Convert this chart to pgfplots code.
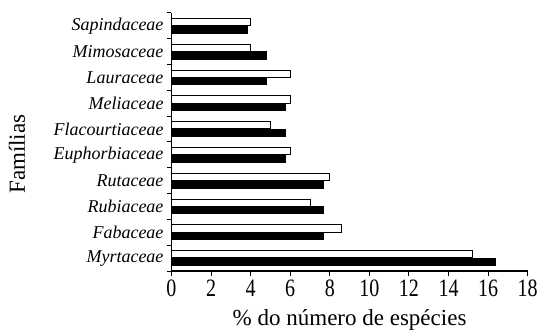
\documentclass[border=0pt]{standalone}
\usepackage{fontspec}
\setmainfont{Liberation Serif}
\usepackage{pgfplots}
\pgfplotsset{compat=1.18}
\begin{document}
\begin{tikzpicture}
\begin{axis}[
  scale only axis, width=356.2bp, height=258bp,
  xmin=0, xmax=18, ymin=-0.5, ymax=9.5,
  axis x line*=bottom, axis y line*=left,
  axis line style={-, line width=1.2bp},
  xtick={0,2,...,18},
  ytick={0,...,9},
  yticklabels={Myrtaceae,Fabaceae,Rubiaceae,Rutaceae,Euphorbiaceae,Flacourtiaceae,Meliaceae,Lauraceae,Mimosaceae,Sapindaceae},
  minor ytick={-0.5,0.5,...,9.5},
  tick align=outside,
  major tick length=4.5bp, minor tick length=4.5bp,
  tick style={black, line width=1bp},
  major y tick style={draw=none},
  /pgf/number format/assume math mode=true,
  xticklabel style={font=\fontsize{20bp}{22bp}\selectfont, yscale=1.25},
  yticklabel style={font=\itshape\fontsize{18bp}{20bp}\selectfont},
  xlabel={\% do número de espécies},
  ylabel={Famílias},
  every axis x label/.style={at={(rel axis cs:0.5,0)}, yshift=-54bp, anchor=base, font=\fontsize{23bp}{25bp}\selectfont},
  every axis y label/.style={at={(rel axis cs:0,0.453)}, xshift=-154.5bp, rotate=90, anchor=center, font=\fontsize{23bp}{25bp}\selectfont},
  clip=false,
]
\addplot[xbar, bar width=0.28, bar shift=-0.145, fill=black, draw=black, line width=0.8bp]
  coordinates {(16.35,0) (7.67,1) (7.67,2) (7.67,3) (5.77,4) (5.77,5) (5.77,6) (4.82,7) (4.82,8) (3.83,9)};
\addplot[xbar, bar width=0.28, bar shift=0.145, fill=white, draw=black, line width=1bp]
  coordinates {(15.2,0) (8.57,1) (7,2) (8,3) (6,4) (5,5) (6,6) (6,7) (4,8) (4,9)};
\coordinate (sw) at (rel axis cs:0,0);
\coordinate (ne) at (rel axis cs:1,1);
\end{axis}
\pgfresetboundingbox
\path[use as bounding box] ([shift={(-171.5bp,-60bp)}]sw) rectangle ([shift={(11.3bp,13bp)}]ne);
\end{tikzpicture}
\end{document}
